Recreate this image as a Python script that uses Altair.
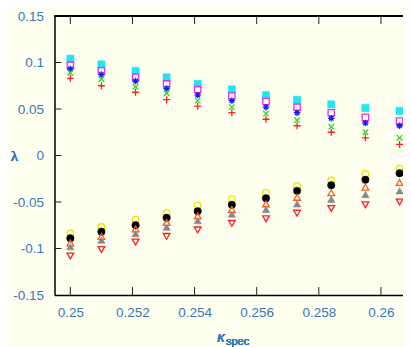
import altair as alt
import pandas as pd

# kappa_spec values of the measurement columns
kappa = [0.2500, 0.2510, 0.2521, 0.2531, 0.2541, 0.2552, 0.2563, 0.2573, 0.2584, 0.2595, 0.2606]

# upper branch
s_cyan = [0.104, 0.098, 0.091, 0.084, 0.077, 0.071, 0.065, 0.060, 0.055, 0.051, 0.048]
s_magenta = [0.097, 0.091, 0.084, 0.077, 0.071, 0.064, 0.058, 0.052, 0.046, 0.041, 0.037]
s_blue = [0.093, 0.087, 0.080, 0.072, 0.065, 0.059, 0.052, 0.046, 0.040, 0.035, 0.032]
s_green = [0.089, 0.082, 0.074, 0.067, 0.059, 0.052, 0.045, 0.038, 0.031, 0.025, 0.019]
s_red = [0.083, 0.075, 0.068, 0.060, 0.053, 0.046, 0.039, 0.032, 0.025, 0.019, 0.012]
# lower branch
s_yellow = [-0.084, -0.077, -0.069, -0.062, -0.054, -0.047, -0.040, -0.033, -0.027, -0.020, -0.014]
s_black = [-0.089, -0.082, -0.075, -0.067, -0.060, -0.053, -0.046, -0.038, -0.032, -0.026, -0.019]
s_orange = [-0.094, -0.087, -0.079, -0.072, -0.065, -0.058, -0.052, -0.045, -0.040, -0.034, -0.029]
s_gray = [-0.098, -0.091, -0.084, -0.077, -0.070, -0.063, -0.058, -0.052, -0.047, -0.042, -0.038]
s_reddown = [-0.108, -0.101, -0.093, -0.087, -0.080, -0.073, -0.068, -0.062, -0.057, -0.053, -0.050]

x_ticks = [0.250, 0.252, 0.254, 0.256, 0.258, 0.260]
y_ticks = [-0.15, -0.10, -0.05, 0.0, 0.05, 0.10, 0.15]

W, H = 348.5, 279
LABEL = "#3677bd"
FONT = "Liberation Sans"

ASTERISK = "M-1,0L1,0M0,-1L0,1M-0.7,-0.7L0.7,0.7M-0.7,0.7L0.7,-0.7"
XMARK = "M-1,-1L1,1M-1,1L1,-1"
PLUS = "M-1,0L1,0M0,-1L0,1"

series = [
    (s_cyan, "square", True, "#1fe6ef", 52),
    (s_magenta, "square", False, "#e030e8", 40),
    (s_blue, ASTERISK, False, "#1a1aff", 42),
    (s_green, XMARK, False, "#22dd22", 30),
    (s_red, PLUS, False, "#ff2020", 50),
    (s_yellow, "circle", False, "#f0e400", 45),
    (s_black, "circle", True, "#000000", 55),
    (s_orange, "triangle-up", False, "#ff5a1f", 45),
    (s_gray, "triangle-up", True, "#888888", 55),
    (s_reddown, "triangle-down", False, "#ff2020", 45),
]

xscale = alt.Scale(domain=[0.24949, 0.26071], nice=False, zero=False)
yscale = alt.Scale(domain=[-0.15, 0.15], nice=False, zero=False)

xaxis = alt.Axis(values=x_ticks, format="~g", ticks=False, grid=False, domainColor="#000000",
                 domainWidth=1.5, labelColor=LABEL, labelFont=FONT, labelFontSize=13.5,
                 labelPadding=10, labelFlush=False, labelOverlap=False, title=None)
yaxis = alt.Axis(values=y_ticks, ticks=False, grid=False, domainColor="#000000",
                 domainWidth=1.5, labelColor=LABEL, labelFont=FONT, labelFontSize=13.5,
                 labelPadding=11, labelFlush=False, labelOverlap=False, title=None,
                 labelExpr="replace(format(datum.value, '~g'), '\u2212', '-')")

X = lambda: alt.X("k:Q", scale=xscale, axis=xaxis)
Y = lambda: alt.Y("lam:Q", scale=yscale, axis=yaxis)

layers = []
for vals, shape, filled, color, size in series:
    df = pd.DataFrame({"k": kappa, "lam": vals})
    kw = dict(shape=shape, size=size, opacity=1)
    if filled:
        kw.update(filled=True, fill=color, stroke=color, strokeWidth=0.5)
    else:
        kw.update(filled=False, stroke=color, strokeWidth=1.3)
    layers.append(alt.Chart(df).mark_point(**kw).encode(x=X(), y=Y()))

xt = pd.DataFrame({"k": x_ticks})
yt = pd.DataFrame({"lam": y_ticks[1:-1]})
TICK = dict(color="#222222", strokeWidth=1)
bottom_ticks = alt.Chart(xt).mark_rule(**TICK).encode(
    x=X(), y=alt.value(H), y2=alt.value(H - 8))
top_ticks = alt.Chart(xt).mark_rule(**TICK).encode(
    x=X(), y=alt.value(0), y2=alt.value(8))
left_ticks = alt.Chart(yt).mark_rule(**TICK).encode(
    y=Y(), x=alt.value(0), x2=alt.value(7))
top_line = alt.Chart(xt).mark_rule(color="#000000", strokeWidth=1.5).encode(
    x=alt.value(0), x2=alt.value(W + 2), y=alt.value(0))

lam_label = alt.Chart(xt).mark_text(text="λ", font="Liberation Serif",
                                    fontSize=15, color=LABEL, align="center", baseline="middle").encode(
    x=alt.value(-40), y=alt.value(139.5))
kappa_label = alt.Chart(xt).mark_text(text="κ", font=FONT, fontStyle="italic", fontSize=15,
                                      color=LABEL, align="center", baseline="alphabetic").encode(
    x=alt.value(166.5), y=alt.value(326))
spec_label = alt.Chart(xt).mark_text(text="spec", font=FONT, fontSize=11,
                                     color=LABEL, align="left", baseline="alphabetic").encode(
    x=alt.value(171.5), y=alt.value(329))

chart = alt.layer(
    *layers, bottom_ticks, top_ticks, left_ticks, top_line,
    lam_label, kappa_label, spec_label
).properties(
    width=W, height=H,
    autosize=alt.AutoSizeParams(type="none"),
    padding={"left": 46.5, "top": 8, "right": 0, "bottom": 52},
    background="#fffff0",
).configure_view(stroke=None)

chart.save("out.html", embed_options={"renderer": "svg", "actions": False})
